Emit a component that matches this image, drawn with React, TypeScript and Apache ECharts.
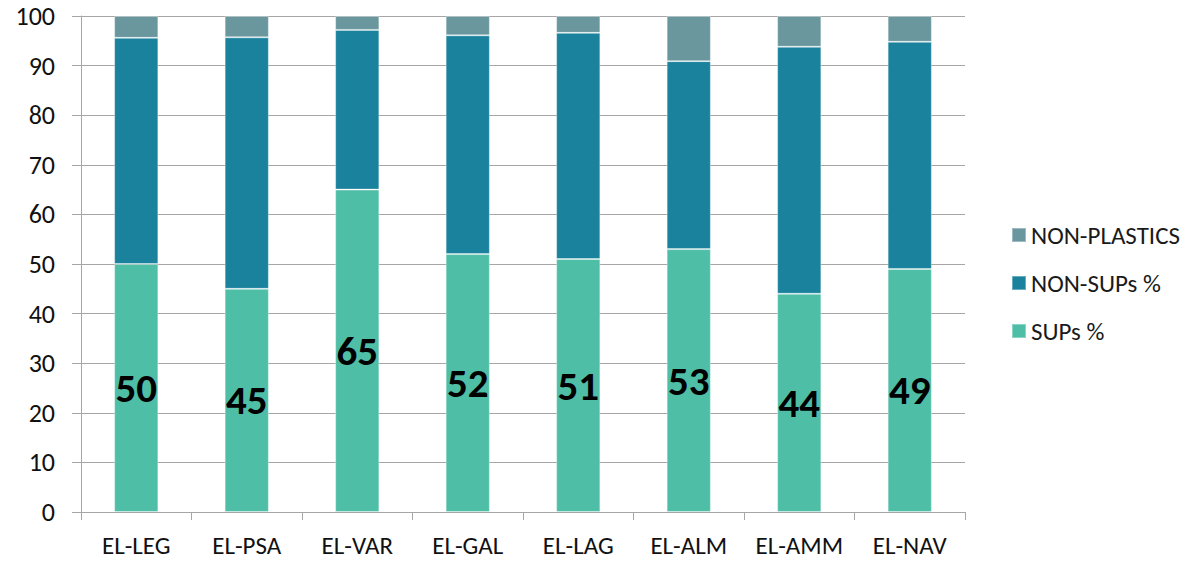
import React, { useEffect, useRef } from "react";
import * as echarts from "echarts";

// Sites along the coast
const sites = ["EL-LEG", "EL-PSA", "EL-VAR", "EL-GAL", "EL-LAG", "EL-ALM", "EL-AMM", "EL-NAV"];

// Share of items per site (%)
const supsPct = [50, 45, 65, 52, 51, 53, 44, 49];
const nonSupsPct = [45.6, 50.7, 32.2, 44.1, 45.6, 37.9, 49.8, 45.8];
const nonPlasticsPct = [4.4, 4.3, 2.8, 3.9, 3.4, 9.1, 6.2, 5.2];

const yTicks = { min: 0, max: 100, step: 10 };

const FONT = "Carlito, Lato, 'Open Sans', sans-serif";
const AXIS_GRAY = "#a6a6a6";

export default function App() {
  const ref = useRef<HTMLDivElement>(null);

  useEffect(() => {
    if (!ref.current) return;
    const chart = echarts.init(ref.current, undefined, { renderer: "svg" });
    const barBase = {
      type: "bar" as const,
      stack: "total",
      barWidth: "40%",
      itemStyle: { borderColor: "rgba(255,255,255,0.35)", borderWidth: 1 },
    };
    chart.setOption({
      animation: false,
      backgroundColor: "#ffffff",
      textStyle: { fontFamily: FONT },
      grid: { left: 81, right: 224, top: 16, bottom: 49, containLabel: false },
      legend: {
        orient: "vertical",
        left: 1006,
        top: 217,
        itemWidth: 14,
        itemHeight: 14,
        itemGap: 22,
        icon: "rect",
        data: ["NON-PLASTICS", "NON-SUPs %", "SUPs %"],
        textStyle: { fontSize: 25, color: "#1a1a1a", fontFamily: FONT, lineHeight: 26 },
      },
      xAxis: {
        type: "category",
        data: sites,
        axisLine: { show: true, lineStyle: { color: AXIS_GRAY, width: 1 } },
        axisTick: { show: true, length: 8, alignWithLabel: false, interval: 0, lineStyle: { color: AXIS_GRAY } },
        axisLabel: {
          fontSize: 25,
          lineHeight: 25,
          color: "#111",
          margin: 21,
          interval: 0,
          hideOverlap: false,
          fontFamily: FONT,
        },
        splitLine: { show: false },
      },
      yAxis: {
        type: "value",
        min: yTicks.min,
        max: yTicks.max,
        interval: yTicks.step,
        axisLine: { show: true, lineStyle: { color: AXIS_GRAY, width: 1 } },
        axisTick: { show: true, length: 9, lineStyle: { color: AXIS_GRAY } },
        axisLabel: { fontSize: 26, color: "#111", margin: 26, fontFamily: FONT },
        splitLine: { show: true, lineStyle: { color: AXIS_GRAY, width: 1 } },
      },
      series: [
        {
          ...barBase,
          name: "SUPs %",
          data: supsPct,
          itemStyle: { ...barBase.itemStyle, color: "#4fbea6" },
          label: {
            show: true,
            position: "inside",
            fontSize: 41,
            fontWeight: "bold",
            color: "#000",
            fontFamily: FONT,
            formatter: (p: any) => String(Math.round(p.value)),
          },
        },
        {
          ...barBase,
          name: "NON-SUPs %",
          data: nonSupsPct,
          itemStyle: { ...barBase.itemStyle, color: "#1a829d" },
        },
        {
          ...barBase,
          name: "NON-PLASTICS",
          data: nonPlasticsPct,
          itemStyle: { ...barBase.itemStyle, color: "#6a969e" },
        },
      ],
    });
    return () => chart.dispose();
  }, []);

  return (
    <div
      ref={ref}
      style={{ position: "fixed", left: 0, top: 0, width: 1189, height: 561, background: "#fff" }}
    />
  );
}
